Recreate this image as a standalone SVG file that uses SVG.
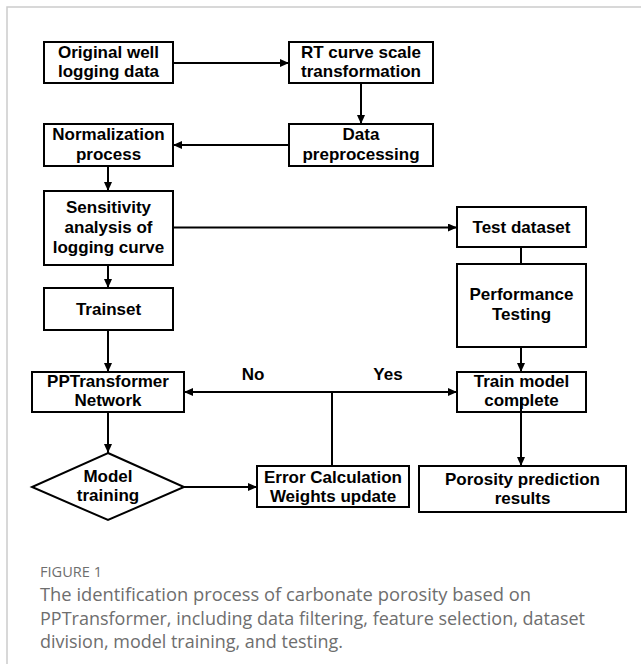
<svg xmlns="http://www.w3.org/2000/svg" width="641" height="664" viewBox="0 0 641 664">
<defs>
<marker id="ah" markerUnits="userSpaceOnUse" markerWidth="10" markerHeight="8" refX="9" refY="4" orient="auto">
<path d="M0,0 L9,4 L0,8 Z" fill="#000"/>
</marker>
<style>
.box{fill:#fff;stroke:#000;stroke-width:2}
.t{font-family:"Liberation Sans",Arial,sans-serif;font-weight:bold;font-size:17px;fill:#000;text-anchor:middle}
.c{fill:none;stroke:#000;stroke-width:2}
.a{marker-end:url(#ah)}
.cap{font-family:"Open Sans","Liberation Sans",sans-serif;fill:#6e6e6e}
</style>
</defs>
<rect width="641" height="664" fill="#fff"/>
<path d="M7,664 V7 H641" fill="none" stroke="#cccccc" stroke-width="1.5"/>

<g id="connectors">
<line class="c a" x1="173" y1="63" x2="289" y2="63"/>
<line class="c a" x1="361" y1="83" x2="361" y2="124"/>
<line class="c a" x1="289" y1="145" x2="173" y2="145"/>
<line class="c a" x1="108" y1="166" x2="108" y2="191"/>
<line class="c a" x1="173" y1="227.5" x2="457" y2="227.5"/>
<line class="c" x1="521" y1="247" x2="521" y2="264"/>
<line class="c a" x1="521" y1="347" x2="521" y2="372"/>
<line class="c a" x1="108" y1="265" x2="108" y2="288"/>
<line class="c a" x1="108" y1="330" x2="108" y2="372"/>
<line class="c a" x1="108" y1="412" x2="108" y2="453"/>
<line class="c a" x1="184" y1="487" x2="257" y2="487"/>
<line class="c" x1="332" y1="466" x2="332" y2="392"/>
<line class="c a" x1="332" y1="392" x2="184" y2="392"/>
<line class="c a" x1="332" y1="392" x2="457" y2="392"/>
<text class="t" x="253" y="380">No</text>
<text class="t" x="388" y="380">Yes</text>
</g>

<g id="original"><rect class="box" x="44" y="42" width="129" height="41"/>
<text class="t" x="108.5" y="58">Original well</text><text class="t" x="108.5" y="77">logging data</text></g>
<g id="rt"><rect class="box" x="289" y="42" width="144" height="41"/>
<text class="t" x="361" y="58">RT curve scale</text><text class="t" x="361" y="77">transformation</text></g>
<g id="preproc"><rect class="box" x="289" y="124" width="144" height="42"/>
<text class="t" x="361" y="140">Data</text><text class="t" x="361" y="160">preprocessing</text></g>
<g id="normalization"><rect class="box" x="44" y="124" width="129" height="42"/>
<text class="t" x="108.5" y="140">Normalization</text><text class="t" x="108.5" y="160">process</text></g>
<g id="sensitivity"><rect class="box" x="44" y="191" width="129" height="74"/>
<text class="t" x="108.5" y="213">Sensitivity</text><text class="t" x="108.5" y="233">analysis of</text><text class="t" x="108.5" y="253">logging curve</text></g>
<g id="trainset"><rect class="box" x="44" y="288" width="129" height="42"/>
<text class="t" x="108.5" y="315">Trainset</text></g>
<g id="test"><rect class="box" x="457" y="207" width="129" height="40"/>
<text class="t" x="521.5" y="233">Test dataset</text></g>
<g id="performance"><rect class="box" x="457" y="264" width="129" height="83"/>
<text class="t" x="521.5" y="300">Performance</text><text class="t" x="521.5" y="320">Testing</text></g>
<g id="trainmodel"><rect class="box" x="457" y="372" width="129" height="40"/>
<text class="t" x="521.5" y="387">Train model</text><text class="t" x="521.5" y="406">complete</text></g>
<g id="ppt"><rect class="box" x="32" y="372" width="152" height="40"/>
<text class="t" x="108" y="387">PPTransformer</text><text class="t" x="108" y="406">Network</text></g>
<g id="modeltraining"><polygon class="box" points="108,453 184,487 108,520 32,487"/>
<text class="t" x="108" y="482">Model</text><text class="t" x="108" y="501">training</text></g>
<g id="error"><rect class="box" x="257" y="466" width="152" height="41"/>
<text class="t" x="333" y="483">Error Calculation</text><text class="t" x="333" y="502">Weights update</text></g>
<g id="porosity"><rect class="box" x="419" y="466" width="207" height="46"/>
<text class="t" x="522.5" y="485">Porosity prediction</text><text class="t" x="522.5" y="504">results</text></g>
<line class="c a" x1="521" y1="397" x2="521" y2="466"/>

<g id="caption">
<text class="cap" x="40" y="577" font-size="14" textLength="62" lengthAdjust="spacingAndGlyphs">FIGURE 1</text>
<text class="cap" x="40" y="601" font-size="18" textLength="491" lengthAdjust="spacingAndGlyphs">The identification process of carbonate porosity based on</text>
<text class="cap" x="40" y="625" font-size="18" textLength="545" lengthAdjust="spacingAndGlyphs">PPTransformer, including data filtering, feature selection, dataset</text>
<text class="cap" x="40" y="648" font-size="18" textLength="303" lengthAdjust="spacingAndGlyphs">division, model training, and testing.</text>
</g>
</svg>
